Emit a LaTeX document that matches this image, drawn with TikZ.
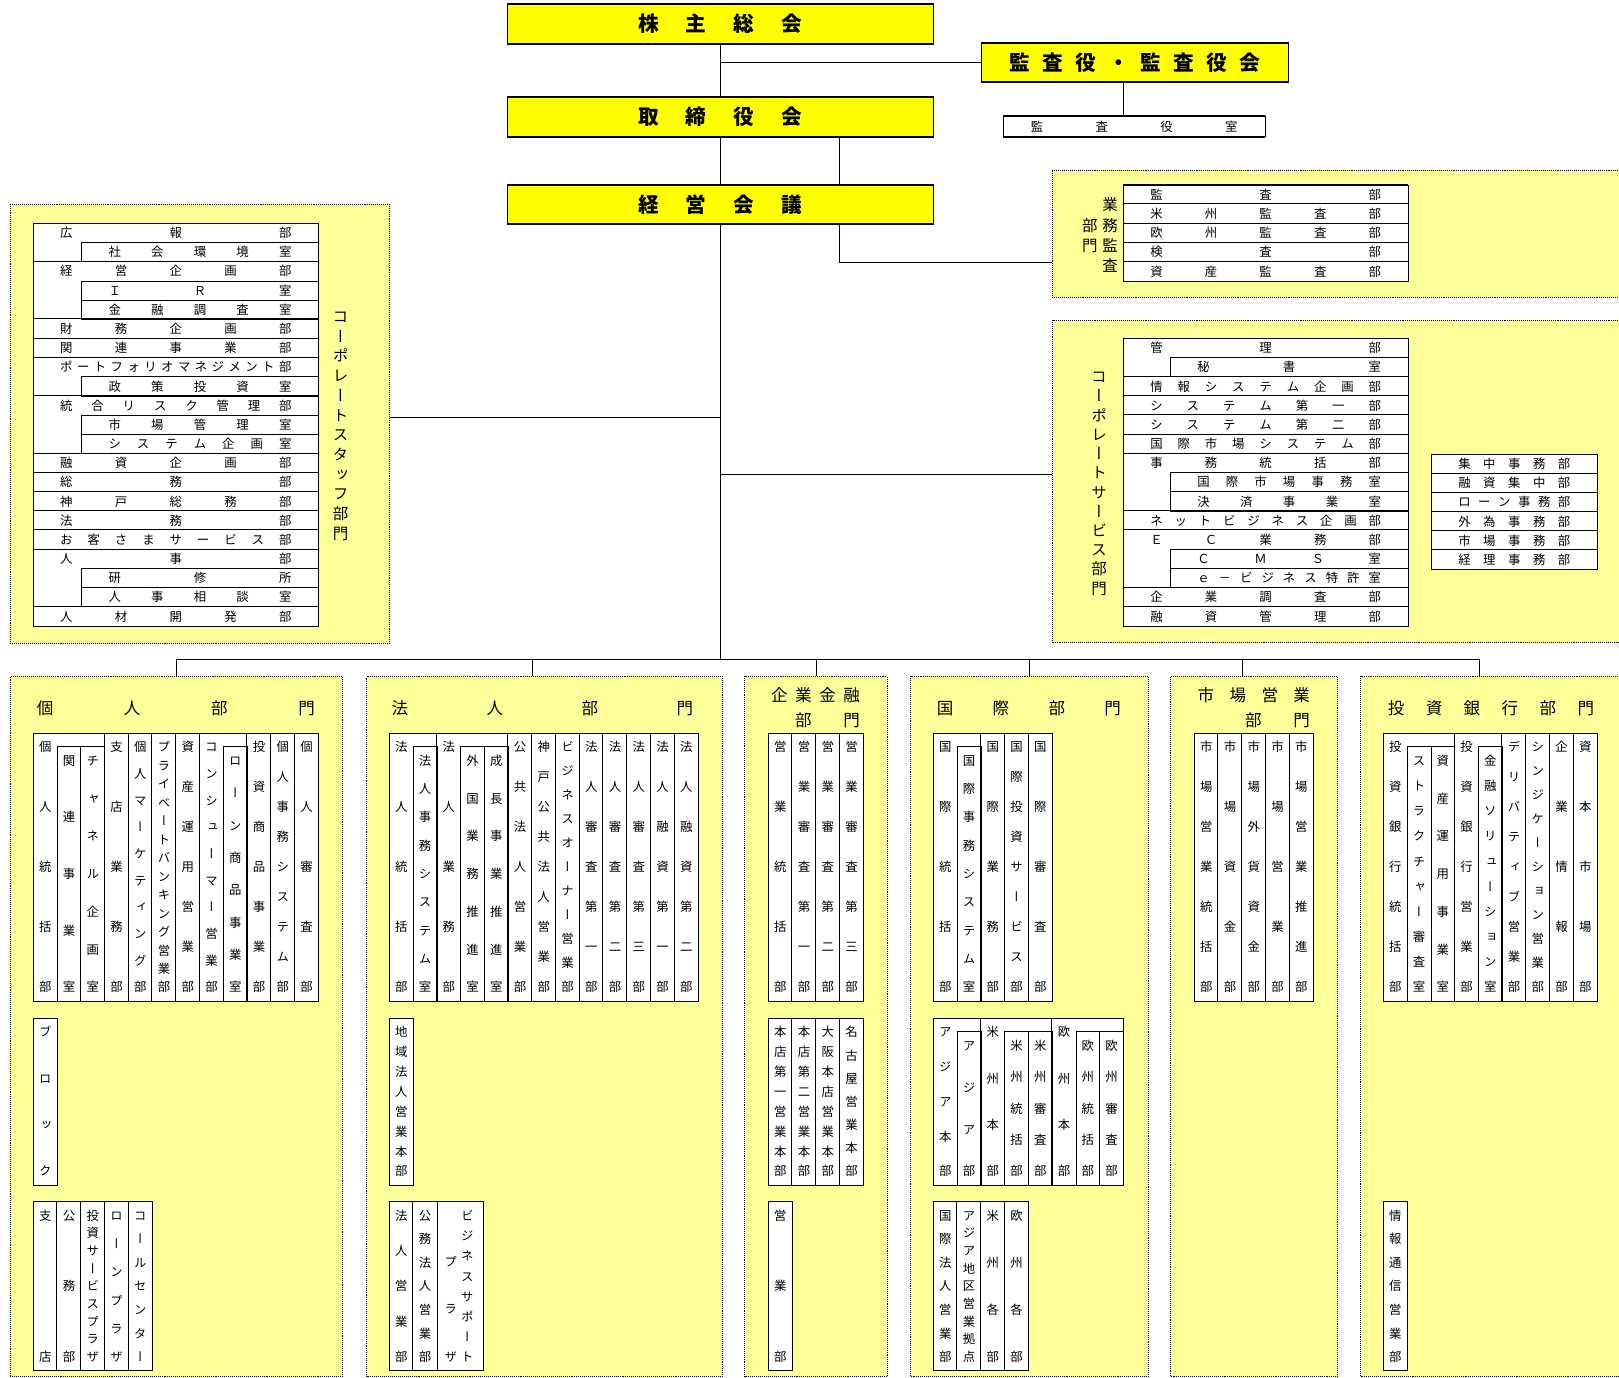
\documentclass[tikz,border=0pt]{standalone}
\usepackage{fontspec}
\setmainfont{Noto Sans CJK JP}
\newfontfamily\vjp[RawFeature=+vert]{Noto Sans CJK JP}
\usepackage{tikz}
\usetikzlibrary{backgrounds}

\definecolor{boxyellow}{HTML}{FFFF00}
\definecolor{paleyellow}{HTML}{FFFF99}

% spread the characters of a label over a given width / height
\def\hloop#1{\ifx\relax#1\else#1\expandafter\hnext\fi}
\def\hnext#1{\ifx\relax#1\else\hfill#1\expandafter\hnext\fi}
\def\vchar#1{\hbox to 1em{\hss\vjp\vrule height .88em depth .12em width 0pt\relax#1\hss}}
\def\vloop#1{\ifx\relax#1\else\vchar{#1}\expandafter\vnext\fi}
\def\vnext#1{\ifx\relax#1\else\vfill\vchar{#1}\expandafter\vnext\fi}
\newcommand\hspread[2]{\makebox[#1][s]{\expandafter\hloop#2\relax}}
\newcommand\vspread[2]{\vbox to #1{\offinterlineskip\expandafter\vloop#2\relax\kern0pt}}

\tikzset{
    topbox/.style={draw, fill=boxyellow, line width=.8pt, inner sep=0, font=\fontsize{20}{20}\selectfont\bfseries},
    panel/.style={draw, densely dotted, line width=.9pt, fill=paleyellow, inner sep=0, anchor=north west},
    ttl/.style={inner sep=0, font=\fontsize{16}{16}\selectfont},
    vlabel/.style={inner sep=0, font=\fontsize{15}{15}\selectfont},
    rowcell/.style={inner sep=0, minimum height=18.57pt, font=\fontsize{12}{12}\selectfont},
    colcell/.style={inner sep=0, minimum width=23pt, font=\fontsize{12}{12}\selectfont}
}

% name, left, top, width, indent, rows, list of label/kind (1 = sub row)
\newcommand\rowtable[7]{%
    \fill[white] (#2,#3) rectangle ++(#4,{#6*18.57});
    \foreach \lbl/\kind [count=\i] in {#7}{
        \pgfmathsetmacro\ry{#3+(\i-0.5)*18.57}
        \ifnum\kind=0
            \node[rowcell, minimum width=#4pt] (#1\i) at ({#2+#4/2},\ry)
                {\hspread{\dimexpr#4pt-52pt\relax}{\lbl}};
            \draw (#1\i.north west) -- (#1\i.north east);
        \else
            \node[rowcell, draw, minimum width=#4pt-#5pt] (#1\i) at ({#2+#5+(#4-#5)/2},\ry)
                {\hspread{\dimexpr#4pt-#5pt-52pt\relax}{\lbl}};
        \fi}
    \draw (#2,#3) rectangle ++(#4,{#6*18.57});}

% name, left, top, bottom, top of sub columns, columns, list of label/kind
\newcommand\coltable[7]{%
    \fill[white] (#2,#3) rectangle ({#2+#6*23},#4);
    \foreach \lbl/\kind [count=\i] in {#7}{
        \pgfmathsetmacro\cx{#2+(\i-0.5)*23}
        \ifnum\kind=0
            \node[colcell, minimum height=#4pt-#3pt] (#1\i) at (\cx,{(#3+#4)/2})
                {\vspread{\dimexpr#4pt-#3pt-14.8pt\relax}{\lbl}};
            \draw (#1\i.north west) -- (#1\i.south west);
        \else
            \node[colcell, draw, minimum height=#4pt-#5pt] (#1\i) at (\cx,{(#5+#4)/2})
                {\vspread{\dimexpr#4pt-#5pt-14.8pt\relax}{\lbl}};
        \fi}
    \draw (#2,#3) rectangle ({#2+#6*23},#4);}

\begin{document}
\begin{tikzpicture}[x=1pt, y=-1pt, line width=.7pt]
                \useasboundingbox (0,0) rectangle (1568,1334);
                \clip (0,0) rectangle (1568,1334);

                \node[topbox, minimum width=413pt, minimum height=37.8pt] (kabu) at (697.5,23.1) {\hspread{159pt}{株主総会}};
                \node[topbox, minimum width=298pt, minimum height=36.8pt] (kansa) at (1099,60.4) {\hspread{242pt}{監査役・監査役会}};
                \node[topbox, minimum width=413pt, minimum height=37.7pt] (torishimari) at (697.5,113.15) {\hspread{159pt}{取締役会}};
                \node[draw, fill=white, inner sep=0, minimum width=253pt, minimum height=19.3pt, font=\fontsize{12}{12}\selectfont] (kansashitsu) at (1098.5,122.35) {\hspread{200pt}{監査役室}};
                \node[topbox, minimum width=413pt, minimum height=37pt] (keiei) at (697.5,198) {\hspread{159pt}{経営会議}};
                \foreach \b in {kabu,kansa,torishimari,kansashitsu,keiei}
                    \draw[line width=1.8pt] (\b.north west) -- (\b.north east) (\b.south west) -- (\b.south east);

                \node[panel, minimum width=367.3pt, minimum height=425.2pt] (staff) at (9.7,197.6) {};
                \node[panel, minimum width=570pt, minimum height=122.7pt] (audit) at (1018.5,164.6) {};
                \node[panel, minimum width=570pt, minimum height=312.2pt] (service) at (1019,309.9) {};
                \node[panel, minimum width=321.2pt, minimum height=678pt] (kojin) at (9.7,654.7) {};
                \node[panel, minimum width=344.5pt, minimum height=678pt] (hojin) at (354.5,654.7) {};
                \node[panel, minimum width=138.2pt, minimum height=678pt] (kigyo) at (720.6,654.7) {};
                \node[panel, minimum width=230.1pt, minimum height=678pt] (kokusai) at (881.4,654.7) {};
                \node[panel, minimum width=161.4pt, minimum height=678pt] (shijo) at (1133.2,654.7) {};
                \node[panel, minimum width=270pt, minimum height=678pt] (toushi) at (1317.2,654.7) {};

                \node[vlabel] (staff-l) at (330,411.6) {\vspread{224.8pt}{コーポレートスタッフ部門}};
                \node[vlabel] (service-l) at (1064.4,467.3) {\vspread{220pt}{コーポレートサービス部門}};
                \node[vlabel] (audit-l1) at (1075.2,228.05) {\vspread{74.1pt}{業務監査}};
                \node[vlabel] (audit-l2) at (1055.6,228.05) {\vspread{34.7pt}{部門}};

                \rowtable{st}{32.3}{216.3}{276}{46.8}{21}{広報部/0,社会環境室/1,経営企画部/0,ＩＲ室/1,金融調査室/1,
                    財務企画部/0,関連事業部/0,ポートフォリオマネジメント部/0,政策投資室/1,統合リスク管理部/0,
                    市場管理室/1,システム企画室/1,融資企画部/0,総務部/0,神戸総務部/0,法務部/0,
                    お客さまサービス部/0,人事部/0,研修所/1,人事相談室/1,人材開発部/0}
                \rowtable{au}{1088.1}{179.2}{275.4}{0}{5}{監査部/0,米州監査部/0,欧州監査部/0,検査部/0,資産監査部/0}
                \rowtable{sv}{1088.1}{327.7}{275.4}{45.5}{15}{管理部/0,秘書室/1,情報システム企画部/0,
                    システム第一部/0,システム第二部/0,国際市場システム部/0,事務統括部/0,国際市場事務室/1,
                    決済事業室/1,ネットビジネス企画部/0,ＥＣ業務部/0,ＣＭＳ室/1,ｅ－ビジネス特許室/1,
                    企業調査部/0,融資管理部/0}
                \rowtable{sj}{1386.3}{440}{160.6}{0}{6}{集中事務部/0,融資集中部/0,ローン事務部/0,外為事務部/0,市場事務部/0,経理事務部/0}

                \node[ttl] (kojin-t) at (170.3,686) {\hspread{269.4pt}{個人部門}};
                \node[ttl] (hojin-t) at (525.4,686) {\hspread{292pt}{法人部門}};
                \node[ttl] (kigyo-t1) at (789.85,673.1) {\hspread{86.1pt}{企業金融}};
                \node[ttl] (kigyo-t2) at (801.45,698) {\hspread{62.9pt}{部門}};
                \node[ttl] (kokusai-t) at (996.45,686) {\hspread{178.3pt}{国際部門}};
                \node[ttl] (shijo-t1) at (1214.35,673.1) {\hspread{108.7pt}{市場営業}};
                \node[ttl] (shijo-t2) at (1237.3,698) {\hspread{62.8pt}{部門}};
                \node[ttl] (toushi-t) at (1443.95,686) {\hspread{199.7pt}{投資銀行部門}};

                \coltable{kjA}{32.3}{710.3}{969.5}{723.2}{12}{個人統括部/0,関連事業室/1,チャネル企画室/1,支店業務部/0,
                    個人マーケティング部/0,プライベートバンキング営業部/0,資産運用営業部/0,コンシューマー営業部/0,
                    ローン商品事業室/1,投資商品事業部/0,個人事務システム部/0,個人審査部/0}
                \coltable{kjB}{32.3}{986.3}{1147.7}{999.2}{1}{ブロック/0}
                \coltable{kjC}{32.3}{1163.9}{1327.5}{1163.9}{5}{支店/0,公務部/0,投資サービスプラザ/0,ローンプラザ/0,コールセンター/0}

                \coltable{hjA}{377.1}{710.3}{969.5}{723.2}{13}{法人統括部/0,法人事務システム室/1,法人業務部/0,
                    外国業務推進室/1,成長事業推進室/1,公共法人営業部/0,神戸公共法人営業部/0,ビジネスオーナー営業部/0,
                    法人審査第一部/0,法人審査第二部/0,法人審査第三部/0,法人融資第一部/0,法人融資第二部/0}
                \coltable{hjB}{377.1}{986.3}{1147.7}{999.2}{1}{地域法人営業本部/0}
                \coltable{hjC}{377.1}{1163.9}{1327.5}{1163.9}{2}{法人営業部/0,公務法人営業部/0}
                \node[colcell, draw, fill=white, minimum width=45.2pt, minimum height=163.6pt] (hjC3) at (445.7,1245.7) {};
                \node[colcell] (hjC3a) at (452.5,1245.85) {\vspread{148.3pt}{ビジネスサポート}};
                \node[colcell] (hjC3b) at (436.5,1268) {\vspread{104pt}{プラザ}};

                \coltable{kfA}{744.2}{710.3}{969.5}{723.2}{4}{営業統括部/0,営業審査第一部/0,営業審査第二部/0,営業審査第三部/0}
                \coltable{kfB}{744.2}{986.3}{1147.7}{999.2}{4}{本店第一営業本部/0,本店第二営業本部/0,大阪本店営業本部/0,名古屋営業本部/0}
                \coltable{kfC}{744.2}{1163.9}{1327.5}{1163.9}{1}{営業部/0}

                \coltable{kkA}{904}{710.3}{969.5}{723.2}{5}{国際統括部/0,国際事務システム室/1,国際業務部/0,国際投資サービス部/0,国際審査部/0}
                \coltable{kkB}{904}{986.3}{1147.7}{999.2}{8}{アジア本部/0,アジア部/1,米州本部/0,米州統括部/1,米州審査部/1,
                    欧州本部/0,欧州統括部/1,欧州審査部/1}
                \coltable{kkC}{904}{1163.9}{1327.5}{1163.9}{4}{国際法人営業部/0,アジア地区営業拠点/0,米州各部/0,欧州各部/0}

                \coltable{sgA}{1156.7}{710.3}{969.5}{723.2}{5}{市場営業統括部/0,市場資金部/0,市場外貨資金部/0,市場営業部/0,市場営業推進部/0}

                \coltable{tgA}{1339.8}{710.3}{969.5}{723.2}{9}{投資銀行統括部/0,ストラクチャー審査室/1,資産運用事業室/1,
                    投資銀行営業部/0,金融ソリューション室/1,デリバティブ営業部/0,シンジケーション営業部/0,企業情報部/0,資本市場部/0}
                \coltable{tgC}{1339.8}{1163.9}{1327.5}{1163.9}{1}{情報通信営業部/0}

                \coordinate (bus) at (697.5,638);
                \coordinate (ks) at ([xshift=-11pt]kansa.south);
                \coordinate (aud) at ([xshift=115.5pt]torishimari.south);
                \coordinate (sb) at ([yshift=7pt]staff.east);
                \coordinate (vb) at ([yshift=7pt]service.west);
                \begin{scope}[on background layer]
                    \draw (kabu) -- (torishimari);
                    \draw (kansa.west) -- (kansa.west -| kabu.south);
                    \draw (ks) -- (ks |- kansashitsu.north);
                    \draw (torishimari) -- (keiei);
                    \draw (aud) |- ([yshift=-28pt]audit.west);
                    \draw (keiei) -- (bus);
                    \draw (sb) -- (sb -| keiei.south);
                    \draw (vb) -- (vb -| keiei.south);
                    \draw (kojin.north |- bus) -- ([xshift=-20.4pt]toushi.north |- bus);
                    \foreach \p/\dx in {kojin/0pt,hojin/-11.75pt,kigyo/0pt,kokusai/0pt,shijo/-11.3pt,toushi/-20.4pt}
                        \draw ([xshift=\dx]\p.north) -- ([xshift=\dx]\p.north |- bus);
                \end{scope}
            \end{tikzpicture}
\end{document}
